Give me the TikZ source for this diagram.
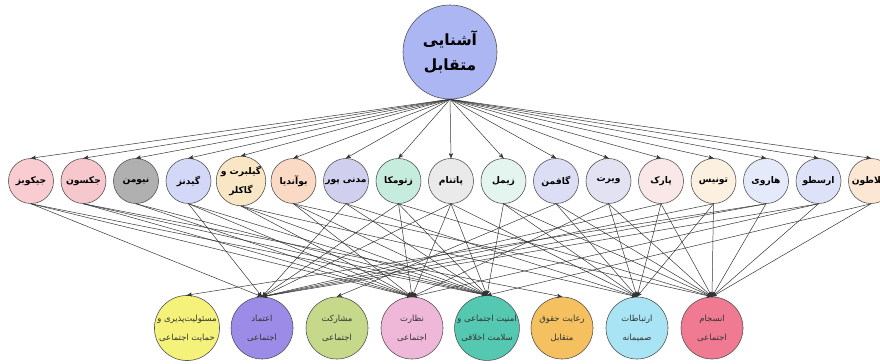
\documentclass[tikz,border=0pt]{standalone}
\usepackage{fontspec}
\newfontfamily\fafont[Script=Arabic]{DejaVu Sans}
\TeXXeTstate=1
\usetikzlibrary{arrows}

\newcommand{\fa}[1]{\beginR #1\endR}

\definecolor{topblue}{RGB}{172,182,242}
\definecolor{rosea}{RGB}{248,204,208}
\definecolor{roseb}{RGB}{246,200,206}
\definecolor{greyc}{RGB}{176,176,176}
\definecolor{blued}{RGB}{212,216,248}
\definecolor{creame}{RGB}{248,230,196}
\definecolor{peachf}{RGB}{250,218,196}
\definecolor{lilacg}{RGB}{208,208,238}
\definecolor{minth}{RGB}{198,236,222}
\definecolor{greyi}{RGB}{234,234,234}
\definecolor{mintj}{RGB}{228,244,238}
\definecolor{lilack}{RGB}{220,222,246}
\definecolor{lilacl}{RGB}{226,226,242}
\definecolor{rosem}{RGB}{250,232,232}
\definecolor{creamn}{RGB}{252,240,224}
\definecolor{blueo}{RGB}{228,234,250}
\definecolor{bluep}{RGB}{222,226,248}
\definecolor{peachq}{RGB}{252,230,212}
\definecolor{gyellow}{RGB}{244,242,122}
\definecolor{gpurple}{RGB}{156,140,232}
\definecolor{ggreen}{RGB}{198,216,138}
\definecolor{gpink}{RGB}{240,184,216}
\definecolor{gteal}{RGB}{84,200,176}
\definecolor{gorange}{RGB}{244,192,96}
\definecolor{gcyan}{RGB}{168,228,244}
\definecolor{gred}{RGB}{240,122,146}

\tikzset{
  bigball/.style={circle, draw=black!70, fill=topblue, minimum size=2.35cm, inner sep=0pt,
    align=center, font=\fafont\bfseries\fontsize{11}{18}\selectfont},
  nameball/.style={circle, draw=black!70, minimum size=1.125cm, inner sep=0pt,
    align=center, font=\fafont\bfseries\fontsize{6.5}{13}\selectfont},
  goalball/.style={circle, draw=black!70, minimum size=1.55cm, inner sep=0pt,
    align=center, text=black!80, font=\fafont\fontsize{6}{13.5}\selectfont},
  link/.style={black!80, line width=0.35pt, ->, >=stealth'}
}

\begin{document}
\begin{tikzpicture}[x=0.025cm, y=-0.025cm]
\useasboundingbox (0,0) rectangle (880,363);

\node[bigball] (top) at (450,52) {\fa{آشنایی}\\\fa{متقابل}};

% thinkers
\foreach \i/\lab/\col in {1/{\fa{جیکوبز}}/rosea, 2/{\fa{جکسون}}/roseb, 3/{\fa{نیومن}}/greyc,
  4/{\fa{گیدنز}}/blued, 5/{\fa{گیلبرت و}\\\fa{گاکلر}}/creame, 6/{\fa{بوآندیا}}/peachf,
  7/{\fa{مدنی پور}}/lilacg, 8/{\fa{زتومکا}}/minth, 9/{\fa{پاتنام}}/greyi,
  10/{\fa{زیمل}}/mintj, 11/{\fa{گافمن}}/lilack, 12/{\fa{ویرت}}/lilacl,
  13/{\fa{پارک}}/rosem, 14/{\fa{تونیس}}/creamn, 15/{\fa{هاروی}}/blueo,
  16/{\fa{ارسطو}}/bluep, 17/{\fa{افلاطون}}/peachq} {
  \node[nameball, fill=\col] (m\i) at ({31+52.5*(\i-1)},181) {\lab};
  \draw[link] (top.south) -- (m\i.north);
}

% components
\foreach \j/\lab/\col in {1/{\fa{مسئولیت‌پذیری و}\\\fa{حمایت اجتماعی}}/gyellow,
  2/{\fa{اعتماد}\\\fa{اجتماعی}}/gpurple, 3/{\fa{مشارکت}\\\fa{اجتماعی}}/ggreen,
  4/{\fa{نظارت}\\\fa{اجتماعی}}/gpink, 5/{\fa{امنیت اجتماعی و}\\\fa{سلامت اخلاقی}}/gteal,
  6/{\fa{رعایت حقوق}\\\fa{متقابل}}/gorange, 7/{\fa{ارتباطات}\\\fa{صمیمانه}}/gcyan,
  8/{\fa{انسجام}\\\fa{اجتماعی}}/gred} {
  \node[goalball, fill=\col] (b\j) at ({187+75*(\j-1)},328) {\lab};
}

\foreach \i/\goals in {1/{2,4,5}, 2/{4,5,6}, 3/{4,5}, 4/{2,4,5}, 5/{4,5,7},
  6/{4,5,8}, 7/{2,5,7}, 8/{2,4,5,8}, 9/{2,4,5,7}, 10/{5,7,8}, 11/{3,7,8},
  12/{4,7,8}, 13/{2,7,8}, 14/{2,7,8}, 15/{1,2,8}, 16/{2,4,8}, 17/{5,8}} {
  \foreach \j in \goals {
    \draw[link] (m\i.south) -- (b\j.north);
  }
}
\end{tikzpicture}
\end{document}
